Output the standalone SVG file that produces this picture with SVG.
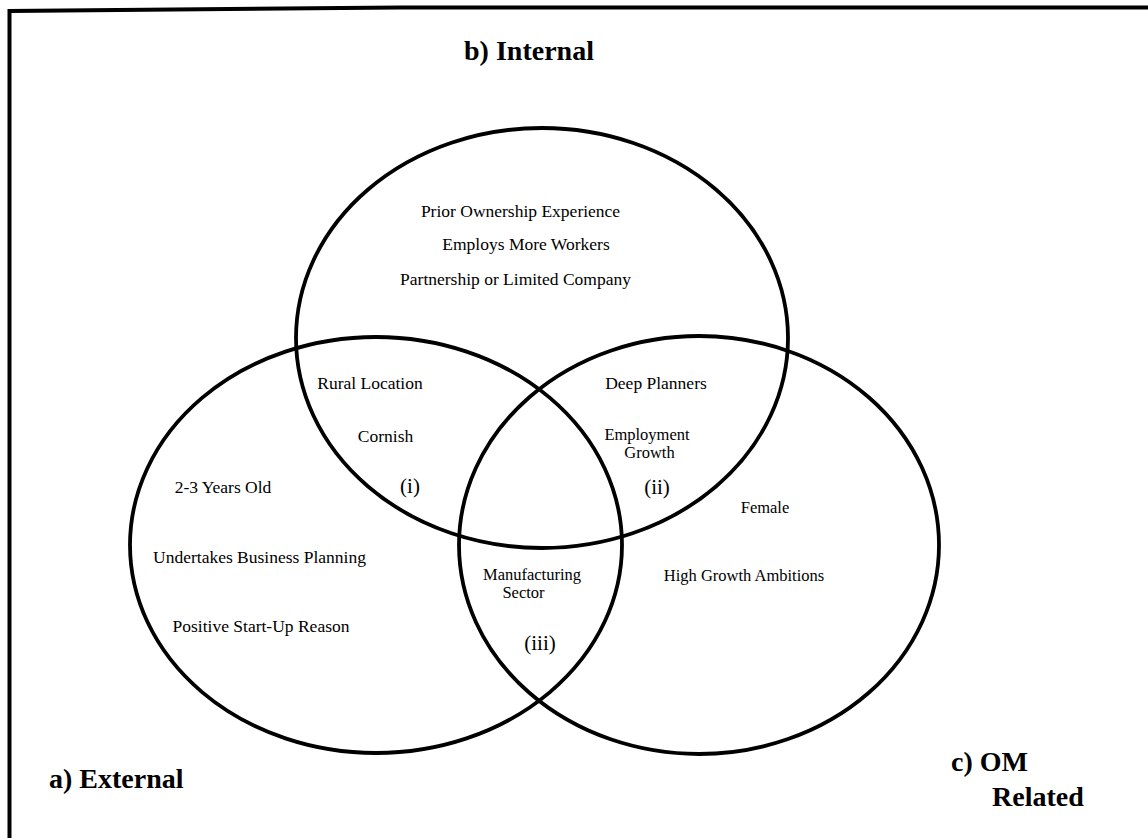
<svg xmlns="http://www.w3.org/2000/svg" width="1148" height="838" viewBox="0 0 1148 838">
  <style>
    .set { fill: none; stroke: #000; stroke-width: 3.8; }
    .frame { fill: none; stroke: #000; stroke-width: 4; }
    .item { font-family: "Liberation Serif", "Times New Roman", serif; font-size: 17.5px; fill: #000; text-anchor: middle; }
    .sm { font-size: 16.5px; }
    .md { font-size: 16.5px; }
    .tag { font-family: "Liberation Serif", "Times New Roman", serif; font-size: 21px; fill: #000; text-anchor: middle; }
    .title { font-family: "Liberation Serif", "Times New Roman", serif; font-size: 28px; font-weight: bold; fill: #000; }
  </style>
  <rect width="1148" height="838" fill="#fff"/>

  <!-- outer frame: only the left and top edges are drawn -->
  <g id="frame">
    <path class="frame" d="M9.5 838 V11 L400 7.5 H1148"/>
  </g>

  <!-- b) internal factors -->
  <g id="set-internal">
    <ellipse class="set" cx="542" cy="338" rx="246" ry="210"/>
    <text class="title" x="529" y="60" text-anchor="middle">b) Internal</text>
    <text class="item" x="520.5" y="217">Prior Ownership Experience</text>
    <text class="item" x="526" y="250">Employs More Workers</text>
    <text class="item" x="515.5" y="285">Partnership or Limited Company</text>
  </g>

  <!-- a) external factors -->
  <g id="set-external">
    <ellipse class="set" cx="376" cy="545" rx="246" ry="208"/>
    <text class="title" x="49" y="788">a) External</text>
    <text class="item" x="223" y="493">2-3 Years Old</text>
    <text class="item" x="259.5" y="563">Undertakes Business Planning</text>
    <text class="item" x="261" y="632">Positive Start-Up Reason</text>
  </g>

  <!-- c) owner-manager related factors -->
  <g id="set-om">
    <ellipse class="set" cx="699" cy="545" rx="240" ry="209"/>
    <text class="title" x="951" y="771">c) OM</text>
    <text class="title" x="992" y="806">Related</text>
    <text class="item sm" x="765" y="513">Female</text>
    <text class="item sm" x="744" y="581">High Growth Ambitions</text>
  </g>

  <!-- overlap (i): external and internal -->
  <g id="region-i">
    <text class="item" x="370" y="389">Rural Location</text>
    <text class="item" x="385.5" y="442">Cornish</text>
    <text class="tag" x="410" y="493">(i)</text>
  </g>

  <!-- overlap (ii): internal and OM related -->
  <g id="region-ii">
    <text class="item sm" x="647" y="440">Employment</text>
    <text class="item sm" x="649.5" y="458">Growth</text>
    <text class="item" x="656" y="389">Deep Planners</text>
    <text class="tag" x="657" y="494">(ii)</text>
  </g>

  <!-- overlap (iii): external and OM related -->
  <g id="region-iii">
    <text class="item md" x="532" y="580">Manufacturing</text>
    <text class="item md" x="523.5" y="598">Sector</text>
    <text class="tag" x="540" y="650">(iii)</text>
  </g>

  <g id="connectors"/>
</svg>
